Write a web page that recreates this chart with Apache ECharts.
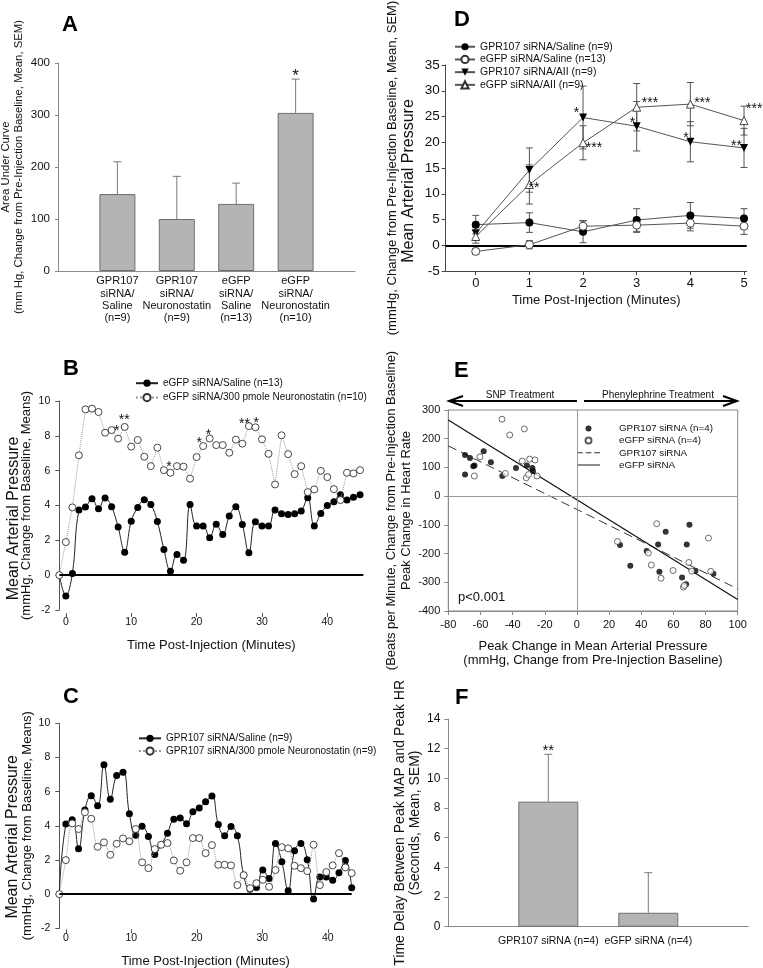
<!DOCTYPE html>
<html>
<head>
<meta charset="utf-8">
<script src="https://cdn.jsdelivr.net/npm/echarts@6/dist/echarts.min.js"></script>
<style>
html,body{margin:0;padding:0;background:#fff;}
#chart{width:763px;height:968px;}
</style>
</head>
<body>
<div id="chart"></div>
<script>
// ================= DATA =================
// Panel A
const aCategories = ['GPR107\nsiRNA/\nSaline\n(n=9)', 'GPR107\nsiRNA/\nNeuronostatin\n(n=9)', 'eGFP\nsiRNA/\nSaline\n(n=13)', 'eGFP\nsiRNA/\nNeuronostatin\n(n=10)'];
const aMeans = [148, 100, 129, 304];
const aSEM = [62, 82, 40, 65];
const aStars = ['', '', '', '*'];

// Panel B
const bNames = ['eGFP siRNA/Saline (n=13)', 'eGFP siRNA/300 pmole Neuronostatin (n=10)'];
const bTimes = [-1, 0, 1, 2, 3, 4, 5, 6, 7, 8, 9, 10, 11, 12, 13, 14, 15, 16, 17, 18, 19, 20, 21, 22, 23, 24, 25, 26, 27, 28, 29, 30, 31, 32, 33, 34, 35, 36, 37, 38, 39, 40, 41, 42, 43, 44, 45];
const bSaline = [0, -1.2, 0.1, 3.74, 3.91, 4.39, 3.81, 4.43, 3.93, 2.76, 1.32, 3.1, 3.89, 4.33, 4.06, 3.08, 1.48, 0.23, 1.19, 0.86, 4.06, 2.82, 2.82, 2.15, 2.93, 2.34, 3.39, 3.93, 2.91, 1.28, 3.07, 2.82, 2.82, 3.74, 3.52, 3.49, 3.52, 3.68, 4.44, 2.82, 3.54, 4.0, 4.21, 4.62, 4.31, 4.48, 4.62];
const bNeuro = [0, 1.90, 3.89, 6.88, 9.52, 9.56, 9.37, 8.18, 8.33, 7.84, 8.51, 7.38, 7.76, 6.80, 6.26, 7.32, 6.03, 5.88, 6.26, 6.23, 5.54, 6.78, 7.41, 7.85, 7.47, 7.47, 7.03, 7.78, 7.55, 8.56, 8.49, 7.80, 6.97, 5.21, 8.03, 6.95, 5.80, 6.26, 4.77, 4.92, 5.99, 5.63, 4.94, 4.31, 5.88, 5.84, 6.03];
const bNeuroStars = {8: '*', 9: '**', 16: '*', 21: '*', 22: '*', 28: '**', 29: '*'};
const bXTicks = [0, 10, 20, 30, 40];

// Panel C
const cNames = ['GPR107 siRNA/Saline (n=9)', 'GPR107 siRNA/300 pmole Neuronostatin (n=9)'];
const cTimes = [-1, 0, 0.97, 1.94, 2.91, 3.88, 4.85, 5.82, 6.79, 7.76, 8.73, 9.7, 10.67, 11.64, 12.61, 13.58, 14.55, 15.52, 16.49, 17.46, 18.43, 19.4, 20.37, 21.34, 22.31, 23.28, 24.25, 25.22, 26.19, 27.16, 28.13, 29.1, 30.07, 31.04, 32.01, 32.98, 33.95, 34.92, 35.89, 36.86, 37.83, 38.8, 39.77, 40.74, 41.71, 42.68, 43.65];
const cSaline = [0, 4.10, 4.36, 2.66, 4.92, 5.76, 5.18, 7.58, 5.55, 6.95, 7.13, 4.71, 3.44, 3.98, 3.38, 2.32, 2.89, 3.57, 4.38, 4.45, 4.12, 4.82, 5.04, 5.41, 5.74, 4.08, 3.42, 3.96, 3.42, 1.1, 0.29, 0.39, 1.41, 0.92, 2.97, 1.89, 0.20, 2.54, 2.97, 2.01, -0.29, 1.00, 1.00, 0.82, 1.25, 1.97, 0.37];
const cNeuro = [0, 1.99, 4.14, 3.81, 4.79, 4.41, 2.77, 3.03, 2.30, 2.95, 3.26, 3.09, 3.81, 1.86, 1.52, 2.64, 2.89, 2.99, 1.97, 1.37, 1.86, 3.28, 3.28, 2.40, 2.87, 1.72, 1.72, 1.68, 0.53, 1.11, 0.35, 0.64, 0.84, 0.43, 1.41, 2.75, 2.68, 1.66, 1.52, 1.35, 2.89, 0.53, 1.29, 1.68, 2.40, 1.56, 1.23];
const cXTicks = [0, 10, 20, 30, 40];

// Panel D
const dNames = ['GPR107 siRNA/Saline (n=9) ', 'eGFP siRNA/Saline (n=13) ', 'GPR107 siRNA/AII (n=9)', 'eGFP siRNA/AII (n=9)'];
const dTimes = [0, 1, 2, 3, 4, 5];
const dGprSaline = [4.0, 4.4, 2.6, 4.9, 5.8, 5.2];
const dGprSalineSEM = [1.8, 1.9, 2.1, 2.2, 2.5, 1.9];
const dEgfpSaline = [-1.2, 0.1, 3.7, 3.9, 4.3, 3.7];
const dEgfpSalineSEM = [0.6, 0.8, 1.1, 1.4, 1.5, 1.6];
const dGprAII = [2.3, 14.6, 24.8, 23.1, 20.1, 18.9];
const dGprAIISEM = [1.2, 4.3, 6.1, 4.8, 3.9, 3.8];
const dEgfpAII = [1.7, 11.8, 19.9, 26.8, 27.4, 24.2];
const dEgfpAIISEM = [1.3, 3.8, 3.3, 4.6, 4.2, 2.8];
const dGprAIIStars = ['', '', '*', '*', '*', '**'];
const dEgfpAIIStars = ['', '**', '***', '***', '***', '***'];
const dXTicks = [0, 1, 2, 3, 4, 5];

// Panel E
const eNames = ['GPR107 siRNA (n=4)', 'eGFP siRNA (n=4)', 'GPR107 siRNA', 'eGFP siRNA'];
const eGprPts = [[-69.6, 143], [-66.5, 133], [-58, 156], [-53.5, 118], [-64.5, 104], [-63.7, 107], [-69.6, 75], [-46.4, 70], [-37.9, 98], [-31.1, 107], [-27.7, 98], [-27.3, 87],
  [26.8, -170], [33.2, -242], [43.4, -191], [50.5, -168], [55.2, -124], [51.3, -263], [70.0, -100], [68.3, -168], [65.4, -283], [67.9, -307], [73.7, -260], [84.9, -270]];
const eEgfpPts = [[-46.6, 268], [-32.7, 234], [-41.8, 213], [-60.3, 137], [-63.8, 70], [-44.5, 79], [-34.0, 122], [-29.4, 129], [-26.1, 126], [-31.5, 64], [-30.1, 75], [-24.8, 70],
  [25.2, -158], [44.4, -198], [49.6, -96], [46.3, -240], [52.3, -286], [59.8, -259], [69.6, -231], [71.4, -261], [66.2, -317], [66.8, -311], [81.8, -146], [83.2, -262]];
const eFitGpr = [[-80, 175], [100, -323]];
const eFitEgfp = [[-80, 265], [100, -360]];

// Panel F
const fCategories = ['GPR107 siRNA (n=4)', 'eGFP siRNA (n=4)'];
const fMeans = [8.43, 0.94];
const fSEM = [3.19, 2.70];
const fStars = ['**', ''];

// ================= STYLE HELPERS =================
const FONT = '"Liberation Sans", Arial, Helvetica, sans-serif';
const INK = '#111';

// star label placement (styling only): glyph offset [dx, dy] from the marker centre
const bStarPlace = {8: [-1, -10], 9: [0, -9], 16: [-1, -8], 21: [-3.5, -5], 22: [-0.7, -6], 28: [-4, -4], 29: [1.3, -7]};
const dGprStarPlace = {2: [-6.6, -7.3], 3: [-4.3, -6.4], 4: [-4.3, -6.7], 5: [-7.6, -4.3]};
const dEgfpStarPlace = {1: [5, 1.4], 2: [11.4, 3], 3: [13.7, -6.7], 4: [12.4, -3.3], 5: [10.7, -14]};

function starLabel(text, place, symSize, fontSize) {
  return {
    show: true, formatter: text, distance: 0,
    position: [symSize / 2 + place[0], symSize / 2 + place[1] + 0.21 * fontSize],
    align: 'center', verticalAlign: 'middle',
    fontSize: fontSize, fontFamily: FONT, color: INK
  };
}
function axLine(color) { return {show: true, onZero: false, lineStyle: {color: color, width: 1}}; }
function axTick(color, len, extra) { return Object.assign({show: true, inside: false, length: len, lineStyle: {color: color, width: 1}}, extra || {}); }
function axLabel(size, margin, extra) { return Object.assign({fontFamily: FONT, fontSize: size, color: INK, margin: margin}, extra || {}); }
function nameStyle(size, lh) { return {fontFamily: FONT, fontSize: size, color: INK, lineHeight: lh}; }
// two-line rotated axis title; padP/padQ shift a line along the axis (styling only)
function richName(s1, lh1, s2, lh2, padP, padQ) {
  return {fontFamily: FONT, color: INK, rich: {
    p: {fontFamily: FONT, color: INK, fontSize: s1, lineHeight: lh1, padding: [0, padP || 0, 0, 0]},
    q: {fontFamily: FONT, color: INK, fontSize: s2, lineHeight: lh2, padding: [0, padQ || 0, 0, 0]}
  }};
}
function zeroLine(color, width, data) {
  return {silent: true, symbol: ['none', 'none'], label: {show: false}, animation: false,
    lineStyle: {color: color, width: width, type: 'solid'}, emphasis: {disabled: true}, data: data};
}
function errorSeries(xi, yi, rows, opt) {
  return {
    type: 'custom', xAxisIndex: xi, yAxisIndex: yi, clip: false, silent: true, z: opt.z || 3,
    data: rows, encode: {x: 0, y: [1, 2]},
    renderItem: function (params, api) {
      const x = api.value(0), lo = api.value(1), hi = api.value(2);
      const pLo = api.coord([x, lo]), pHi = api.coord([x, hi]);
      const c = opt.cap;
      const st = {stroke: opt.color, lineWidth: 1};
      const kids = [
        {type: 'line', shape: {x1: pLo[0], y1: pLo[1], x2: pHi[0], y2: pHi[1]}, style: st},
        {type: 'line', shape: {x1: pHi[0] - c, y1: pHi[1], x2: pHi[0] + c, y2: pHi[1]}, style: st}
      ];
      if (opt.lowerCap) kids.push({type: 'line', shape: {x1: pLo[0] - c, y1: pLo[1], x2: pLo[0] + c, y2: pLo[1]}, style: st});
      const star = opt.stars ? opt.stars[params.dataIndex] : '';
      if (star) kids.push({type: 'text', x: pHi[0], y: pHi[1] - opt.starGap,
        style: {text: star, align: 'center', verticalAlign: 'middle', fontSize: opt.starSize, fontFamily: FONT, fill: INK}});
      return {type: 'group', children: kids};
    }
  };
}

// ================= SERIES DATA BUILDERS =================
const bSalData = bTimes.map((t, i) => i === 0 ? {value: [t, bSaline[i]], symbol: 'none'} : [t, bSaline[i]]);
const bNeuroData = bTimes.map((t, i) => bNeuroStars[t] ? {value: [t, bNeuro[i]], label: starLabel(bNeuroStars[t], bStarPlace[t], 7, 14)} : [t, bNeuro[i]]);
const cSalData = cTimes.map((t, i) => i === 0 ? {value: [t, cSaline[i]], symbol: 'none'} : [t, cSaline[i]]);
const cNeuroData = cTimes.map((t, i) => [t, cNeuro[i]]);
const dGprAIIData = dTimes.map((t, i) => dGprAIIStars[i] ? {value: [t, dGprAII[i]], label: starLabel(dGprAIIStars[i], dGprStarPlace[i], 8, 14)} : [t, dGprAII[i]]);
const dEgfpAIIData = dTimes.map((t, i) => dEgfpAIIStars[i] ? {value: [t, dEgfpAII[i]], label: starLabel(dEgfpAIIStars[i], dEgfpStarPlace[i], 8, 14)} : [t, dEgfpAII[i]]);
function errRows(times, m, s) { return times.map((t, i) => [t, m[i] - s[i], m[i] + s[i]]); }

const openItem = {color: '#fff', borderColor: '#333', borderWidth: 0.9};

const option = {
  animation: false,
  backgroundColor: '#fff',
  textStyle: {fontFamily: FONT, color: INK},
  title: [
    {text: 'A', left: 62, top: 14},
    {text: 'B', left: 63, top: 358},
    {text: 'C', left: 63, top: 686},
    {text: 'D', left: 454, top: 9},
    {text: 'E', left: 454, top: 360},
    {text: 'F', left: 455, top: 687}
  ].map(t => Object.assign(t, {padding: 0, textStyle: {fontSize: 22, fontWeight: 'bold', fontFamily: FONT, color: '#000', lineHeight: 22}})),
  legend: [
    {data: bNames, left: 135, top: 376.5, orient: 'vertical', itemWidth: 22, itemHeight: 9, itemGap: 1, padding: 0, selectedMode: false,
      textStyle: {fontFamily: FONT, fontSize: 10, color: INK, lineHeight: 13.4}},
    {data: cNames, left: 138, top: 732, orient: 'vertical', itemWidth: 22, itemHeight: 9, itemGap: 0, padding: 0, selectedMode: false,
      textStyle: {fontFamily: FONT, fontSize: 10, color: INK, lineHeight: 12.7}},
    {data: dNames, left: 454, top: 40.4, orient: 'vertical', itemWidth: 20, itemHeight: 9, itemGap: 0, padding: 0, selectedMode: false,
      textStyle: {fontFamily: FONT, fontSize: 10.5, color: INK, lineHeight: 12.7}},
    {data: [{name: eNames[0]}, {name: eNames[1]},
        {name: eNames[2], icon: 'path://M0,0H6V1H0Z M9,0H15V1H9Z M18,0H24V1H18Z'},
        {name: eNames[3], icon: 'path://M0,0H24V1H0Z'}],
      left: 577, top: 422.3, orient: 'vertical', itemWidth: 23, itemHeight: 6, itemGap: 0, padding: 0, selectedMode: false,
      textStyle: {fontFamily: FONT, fontSize: 9.8, color: INK, lineHeight: 12.2, padding: [0, 0, 0, 14]}}
  ],
  grid: [
    {left: 58, top: 63, width: 297, height: 208, outerBoundsMode: 'none'},
    {left: 59.3, top: 401, width: 304, height: 209, outerBoundsMode: 'none'},
    {left: 59.3, top: 723.3, width: 292.4, height: 205, outerBoundsMode: 'none'},
    {left: 445.7, top: 65, width: 301, height: 206, outerBoundsMode: 'none'},
    {left: 448.3, top: 410, width: 289.4, height: 201, outerBoundsMode: 'none', show: true, borderColor: '#888', borderWidth: 1, backgroundColor: 'transparent'},
    {left: 448.3, top: 719, width: 300, height: 207.7, outerBoundsMode: 'none'}
  ],
  xAxis: [
    {gridIndex: 0, type: 'value', min: 0, max: 5, axisLine: axLine('#8a8a8a'), axisTick: {show: false}, splitLine: {show: false},
      axisLabel: axLabel(11, 4, {customValues: [1, 2, 3, 4], lineHeight: 12.4, formatter: v => aCategories[Math.round(v) - 1] || ''})},
    {gridIndex: 1, type: 'value', min: -1, max: 45.5, offset: 3, axisLine: {show: false, onZero: false},
      axisTick: axTick('#555', 4, {customValues: bXTicks}), splitLine: {show: false},
      axisLabel: axLabel(10.5, 4, {customValues: bXTicks}),
      name: 'Time Post-Injection (Minutes)', nameLocation: 'middle', nameGap: 25, nameTextStyle: nameStyle(13, 15)},
    {gridIndex: 2, type: 'value', min: -1, max: 43.65, offset: 1, axisLine: {show: false, onZero: false},
      axisTick: axTick('#555', 4, {customValues: cXTicks}), splitLine: {show: false},
      axisLabel: axLabel(10.5, 3, {customValues: cXTicks}),
      name: 'Time Post-Injection (Minutes)', nameLocation: 'middle', nameGap: 25, nameTextStyle: nameStyle(13, 15)},
    {gridIndex: 3, type: 'value', min: -0.56, max: 5.05, axisLine: axLine('#444'),
      axisTick: axTick('#444', 4, {customValues: dXTicks}), splitLine: {show: false},
      axisLabel: axLabel(13, 6, {customValues: dXTicks}),
      name: 'Time Post-Injection (Minutes)', nameLocation: 'middle', nameGap: 22, nameTextStyle: nameStyle(13, 15)},
    {gridIndex: 4, type: 'value', min: -80, max: 100, interval: 20, axisLine: axLine('#888'),
      axisTick: axTick('#888', 4), splitLine: {show: false}, axisLabel: axLabel(11, 8),
      name: 'Peak Change in Mean Arterial Pressure\n(mmHg, Change from Pre-Injection Baseline)', nameLocation: 'middle', nameGap: 29,
      nameTextStyle: nameStyle(13, 13.5)},
    {gridIndex: 5, type: 'value', min: 0, max: 3, axisLine: axLine('#888'), axisTick: {show: false}, splitLine: {show: false},
      axisLabel: axLabel(10.5, 9, {customValues: [1, 2], formatter: v => fCategories[Math.round(v) - 1] || ''})}
  ],
  yAxis: [
    {gridIndex: 0, type: 'value', min: 0, max: 400, interval: 100, axisLine: axLine('#8a8a8a'), axisTick: axTick('#8a8a8a', 3),
      splitLine: {show: false}, axisLabel: axLabel(11.5, 8),
      name: 'Area Under Curve\n(mm Hg, Change from Pre-Injection Baseline, Mean, SEM)', nameLocation: 'middle', nameRotate: 90, nameGap: 33,
      nameTextStyle: nameStyle(11.3, 13)},
    {gridIndex: 1, type: 'value', min: -2, max: 10, interval: 2, axisLine: axLine('#555'), axisTick: axTick('#555', 4),
      splitLine: {show: false}, axisLabel: axLabel(10.5, 9),
      name: '{p|Mean Arterial Pressure}\n{q|(mmHg, Change from Baseline, Means)}', nameLocation: 'middle', nameRotate: 90, nameGap: 26.5,
      nameTextStyle: richName(16, 15, 13, 12, 26, 0)},
    {gridIndex: 2, type: 'value', min: -2, max: 10, interval: 2, axisLine: axLine('#555'), axisTick: axTick('#555', 4),
      splitLine: {show: false}, axisLabel: axLabel(10.5, 9),
      name: '{p|Mean Arterial Pressure}\n{q|(mmHg, Change from Baseline, Means)}', nameLocation: 'middle', nameRotate: 90, nameGap: 25.3,
      nameTextStyle: richName(16, 16, 13, 13, 22, 0)},
    {gridIndex: 3, type: 'value', min: -5, max: 35, interval: 5, axisLine: axLine('#444'), axisTick: axTick('#444', 4),
      splitLine: {show: false}, axisLabel: axLabel(13.5, 6),
      name: '{p|(mmHg, Change from Pre-Injection Baseline, Mean, SEM)}\n{q|Mean Arterial Pressure}', nameLocation: 'middle', nameRotate: 90, nameGap: 29,
      nameTextStyle: richName(13, 15, 16, 17, 0, 26)},
    {gridIndex: 4, type: 'value', min: -400, max: 300, interval: 100, axisLine: axLine('#888'), axisTick: axTick('#888', 4),
      splitLine: {show: false}, axisLabel: axLabel(11, 8),
      name: '(Beats per Minute, Change from Pre-Injection Baseline)\nPeak Change in Heart Rate', nameLocation: 'middle', nameRotate: 90, nameGap: 32,
      nameTextStyle: nameStyle(13, 15)},
    {gridIndex: 5, type: 'value', min: 0, max: 14, interval: 2, axisLine: axLine('#888'), axisTick: axTick('#888', 4),
      splitLine: {show: false}, axisLabel: axLabel(12, 8),
      name: 'Time Delay Between Peak MAP and Peak HR\n(Seconds, Mean, SEM)', nameLocation: 'middle', nameRotate: 90, nameGap: 25.5,
      nameTextStyle: nameStyle(14, 15)}
  ],
  series: [
    // ---- A ----
    {type: 'bar', xAxisIndex: 0, yAxisIndex: 0, barWidth: 36, silent: true, z: 2,
      data: aMeans.map((v, i) => [i + 1, v]),
      itemStyle: {color: '#b4b4b4', borderColor: '#6e6e6e', borderWidth: 1}},
    errorSeries(0, 0, aMeans.map((v, i) => [i + 1, v, v + aSEM[i]]), {cap: 4, color: '#7a7a7a', stars: aStars, starSize: 17, starGap: 3}),
    // ---- B ----
    {name: bNames[0], type: 'line', xAxisIndex: 1, yAxisIndex: 1, data: bSalData, smooth: 0.4, symbol: 'circle', symbolSize: 7,
      itemStyle: {color: '#000'}, lineStyle: {color: '#222', width: 1}, z: 3, silent: true,
      markLine: zeroLine('#000', 2, [{yAxis: 0}])},
    {name: bNames[1], type: 'line', xAxisIndex: 1, yAxisIndex: 1, data: bNeuroData, symbol: 'circle', symbolSize: 7,
      itemStyle: openItem, lineStyle: {color: '#999', width: 1, type: 'dotted'}, z: 4, silent: true},
    // ---- C ----
    {name: cNames[0], type: 'line', xAxisIndex: 2, yAxisIndex: 2, data: cSalData, smooth: 0.45, symbol: 'circle', symbolSize: 7,
      itemStyle: {color: '#000'}, lineStyle: {color: '#222', width: 1}, z: 3, silent: true,
      markLine: zeroLine('#000', 2, [{yAxis: 0}])},
    {name: cNames[1], type: 'line', xAxisIndex: 2, yAxisIndex: 2, data: cNeuroData, smooth: 0.3, symbol: 'circle', symbolSize: 7,
      itemStyle: openItem, lineStyle: {color: '#999', width: 1, type: 'dotted'}, z: 4, silent: true},
    // ---- D ----
    errorSeries(3, 3, errRows(dTimes, dGprSaline, dGprSalineSEM), {cap: 3.5, color: '#555', lowerCap: true}),
    errorSeries(3, 3, errRows(dTimes, dEgfpSaline, dEgfpSalineSEM), {cap: 3.5, color: '#555', lowerCap: true}),
    errorSeries(3, 3, errRows(dTimes, dGprAII, dGprAIISEM), {cap: 3.5, color: '#555', lowerCap: true}),
    errorSeries(3, 3, errRows(dTimes, dEgfpAII, dEgfpAIISEM), {cap: 3.5, color: '#555', lowerCap: true}),
    {name: dNames[0], type: 'line', xAxisIndex: 3, yAxisIndex: 3, data: dTimes.map((t, i) => [t, dGprSaline[i]]),
      symbol: 'circle', symbolSize: 8, itemStyle: {color: '#000'}, lineStyle: {color: '#555', width: 1}, z: 5, silent: true,
      markLine: zeroLine('#000', 2, [{yAxis: 0}])},
    {name: dNames[1], type: 'line', xAxisIndex: 3, yAxisIndex: 3, data: dTimes.map((t, i) => [t, dEgfpSaline[i]]),
      symbol: 'circle', symbolSize: 8, itemStyle: openItem, lineStyle: {color: '#555', width: 1}, z: 5, silent: true},
    {name: dNames[2], type: 'line', xAxisIndex: 3, yAxisIndex: 3, data: dGprAIIData,
      symbol: 'triangle', symbolRotate: 180, symbolSize: 8, itemStyle: {color: '#000'}, lineStyle: {color: '#555', width: 1}, z: 5, silent: true},
    {name: dNames[3], type: 'line', xAxisIndex: 3, yAxisIndex: 3, data: dEgfpAIIData,
      symbol: 'triangle', symbolSize: 8, itemStyle: openItem, lineStyle: {color: '#555', width: 1}, z: 5, silent: true},
    // ---- E ----
    {name: eNames[0], type: 'scatter', xAxisIndex: 4, yAxisIndex: 4, data: eGprPts, symbolSize: 6, itemStyle: {color: '#000'}, z: 4, silent: true,
      markLine: zeroLine('#999', 1, [{xAxis: 0}, {yAxis: 0}])},
    {name: eNames[1], type: 'scatter', xAxisIndex: 4, yAxisIndex: 4, data: eEgfpPts, symbolSize: 6, itemStyle: openItem, z: 4, silent: true},
    {name: eNames[2], type: 'line', xAxisIndex: 4, yAxisIndex: 4, data: eFitGpr, symbol: 'none', silent: true,
      itemStyle: {color: '#333'}, lineStyle: {color: '#333', width: 1, type: [9, 5]}, z: 3},
    {name: eNames[3], type: 'line', xAxisIndex: 4, yAxisIndex: 4, data: eFitEgfp, symbol: 'none', silent: true,
      itemStyle: {color: '#111'}, lineStyle: {color: '#111', width: 1.2}, z: 3},
    // ---- F ----
    {type: 'bar', xAxisIndex: 5, yAxisIndex: 5, barWidth: 60, silent: true, z: 2,
      data: fMeans.map((v, i) => [i + 1, v]),
      itemStyle: {color: '#b4b4b4', borderColor: '#6e6e6e', borderWidth: 1}},
    errorSeries(5, 5, fMeans.map((v, i) => [i + 1, v, v + fSEM[i]]), {cap: 4, color: '#7a7a7a', stars: fStars, starSize: 15, starGap: 3})
  ],
  graphic: [
    {type: 'line', shape: {x1: 449, y1: 401, x2: 577, y2: 401}, style: {stroke: '#000', lineWidth: 2}},
    {type: 'polyline', shape: {points: [[463, 396], [449, 401], [463, 406]]}, style: {stroke: '#000', lineWidth: 2, fill: null}},
    {type: 'text', x: 520, y: 400, style: {text: 'SNP Treatment', align: 'center', verticalAlign: 'bottom', fontSize: 10, fontFamily: FONT, fill: INK}},
    {type: 'line', shape: {x1: 584, y1: 401, x2: 737, y2: 401}, style: {stroke: '#000', lineWidth: 2}},
    {type: 'polyline', shape: {points: [[723, 396], [737, 401], [723, 406]]}, style: {stroke: '#000', lineWidth: 2, fill: null}},
    {type: 'text', x: 658, y: 400, style: {text: 'Phenylephrine Treatment', align: 'center', verticalAlign: 'bottom', fontSize: 10, fontFamily: FONT, fill: INK}},
    {type: 'text', x: 458, y: 597, style: {text: 'p<0.001', align: 'left', verticalAlign: 'middle', fontSize: 13, fontFamily: FONT, fill: INK}}
  ]
};

const chart = echarts.init(document.getElementById('chart'), null, {renderer: 'canvas'});
chart.setOption(option);
</script>
</body>
</html>
